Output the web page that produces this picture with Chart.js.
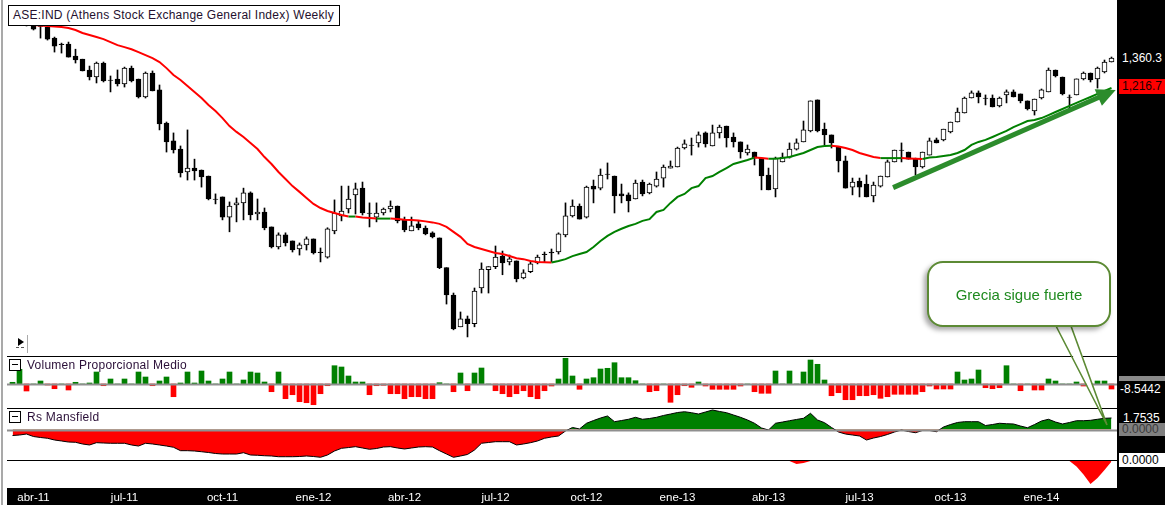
<!DOCTYPE html>
<html>
<head>
<meta charset="utf-8">
<title>ASE:IND Weekly</title>
<script src="https://cdn.jsdelivr.net/npm/chart.js@4.4.1/dist/chart.umd.min.js"></script>
<style>
html, body { margin: 0; padding: 0; background: #fff; }
body { width: 1165px; height: 505px; position: relative; overflow: hidden; font-family: "Liberation Sans", Arial, sans-serif; }
canvas { position: absolute; left: 7px; }
.abs { position: absolute; }
.hline { position: absolute; left: 7px; width: 1110px; height: 1px; background: #000; }
#leftEdge { left: 1px; top: 0; width: 2px; height: 505px; background: #a9a9a9; }
#xbar { left: 7px; top: 489px; width: 1110px; height: 16px; background: #000; }
#strip { left: 1117px; top: 0; width: 48px; height: 505px; background: #000; }
#title { left: 8px; top: 5px; height: 19px; padding: 0 5px 0 4px; border: 1px solid #000; background: #fff;
  font-size: 12px; line-height: 19px; color: #24102e; letter-spacing: 0.25px; white-space: nowrap; }
.plabel { position: absolute; left: 27px; font-size: 12px; line-height: 14px; color: #2a0f38; letter-spacing: 0.25px; white-space: nowrap; }
.pbox { position: absolute; left: 9px; width: 10px; height: 10px; border: 1px solid #000; background: #fff; }
.pbox:after { content: ""; position: absolute; left: 2px; top: 4px; width: 6px; height: 1px; background: #000; }
.rlab { position: absolute; left: 1119px; width: 46px; font-size: 12px; line-height: 14px; white-space: nowrap; }
#callout { left: 927px; top: 261px; width: 184px; height: 66px; box-sizing: border-box; border: 2px solid #5c8a34; border-radius: 16px;
  background: #fff; box-shadow: -3px 3px 5px rgba(0,0,0,0.35); display: flex; align-items: center; justify-content: center;
  font-size: 15px; color: #1f8a1f; }
</style>
</head>
<body>
<div class="abs" id="leftEdge"></div>
<div class="abs" id="xbar"></div>
<canvas id="cMain" width="1110" height="356" style="top:0px"></canvas>
<canvas id="cVol" width="1110" height="52" style="top:356px"></canvas>
<canvas id="cRs" width="1110" height="53" style="top:408px"></canvas>
<canvas id="cLow" width="1110" height="44" style="top:461px"></canvas>
<div class="hline" style="top:356px"></div>
<div class="hline" style="top:408px"></div>
<div class="hline" style="top:460px"></div>
<div class="hline" style="top:488px"></div>
<div class="abs" id="strip"></div>

<div class="abs" id="title">ASE:IND (Athens Stock Exchange General Index) Weekly</div>

<!-- little play marker bottom-left of price panel -->
<div class="abs" style="left:18px;top:338px;width:0;height:0;border-top:4px solid transparent;border-bottom:4px solid transparent;border-left:6px solid #000;"></div>
<div class="abs" style="left:16px;top:347px;width:8px;height:0;border-top:1px dashed #555;"></div>
<div class="abs" style="left:27px;top:335px;width:1px;height:18px;background:#aaa;"></div>

<div class="pbox" style="top:359px"></div>
<div class="plabel" style="top:358px">Volumen Proporcional Medio</div>
<div class="pbox" style="top:411px"></div>
<div class="plabel" style="top:410px">Rs Mansfield</div>

<div class="rlab" style="top:51px;left:1122px;color:#fff">1,360.3</div>
<div class="rlab" style="top:79px;height:15px;background:#ff0000;color:#1a0000;padding-left:3px;">1,216.7</div>
<div class="abs" style="left:1119px;top:376px;width:46px;height:5px;background:#8a8a8a"></div>
<div class="rlab" style="top:382px;left:1120px;color:#fff">-8.5442</div>
<div class="rlab" style="top:411px;left:1123px;color:#fff">1.7535</div>
<div class="rlab" style="top:423px;height:13px;line-height:13px;background:#808080;color:#3a3a3a;padding-left:3px;">0.0000</div>
<div class="rlab" style="top:453px;height:14px;background:#fff;color:#000;padding-left:3px;">0.0000</div>

<svg class="abs" style="left:1040px;top:318px" width="80" height="112">
  <polygon points="16.5,5 30.5,5 67,107" fill="#fff"/>
  <polyline points="16,8 67,107 31,8" fill="none" stroke="#5c8a34" stroke-width="1.6"/>
</svg>
<div class="abs" id="callout">Grecia sigue fuerte</div>

<script>
// weekly bars, first one = week of 14-mar-2011
var opens = [
  1555.4, 1567, 1549.6, 1538, 1532.2, 1526.4, 1464.7, 1432.4, 1432.4, 1369.8,
  1354.2, 1301, 1267.4, 1335, 1253.5, 1257.8, 1234.9, 1310, 1257.8, 1176.6,
  1286.6, 1208, 1068, 999.3, 969.5, 890.3, 903.4, 897, 877, 805.2,
  811.4, 752.9, 787.6, 793.6, 823.7, 761.5, 767.3, 725.7, 673.7, 704.7,
  688.9, 668.6, 678.7, 694.1, 661.1, 648.7, 715.3, 756, 775.7, 817.6,
  838.4, 764.4, 752.9, 764.4, 775.7, 784.6, 745, 715.3, 734, 722.9,
  710, 696.7, 623.7, 563.4, 500.6, 515.9, 506.4, 578.3, 619, 626,
  651.2, 637.2, 639.6, 600.6, 614.4, 634.9, 656.1, 661.1, 661.1, 704.7,
  756, 784.6, 752.9, 844.8, 838.4, 883.7, 877, 820.6, 817.6, 805.2,
  857.6, 823.7, 844.8, 870.4, 903.4, 907, 973.2, 984.4, 991.8, 1029.4,
  980.7, 1029.4, 1056, 1014, 995.6, 955.3, 958.8, 937.4, 880.4, 836.2,
  924.1, 941, 969.5, 995.6, 1037.1, 1164, 1044, 1021.7, 976.7, 927.6,
  841.6, 860.8, 851.2, 814.5, 844.8, 873.7, 924.1, 966, 958.8, 933.8,
  907, 948.1, 1003, 1003, 1033.3, 1072, 1108.5, 1172.2, 1194.6, 1172.2,
  1172.2, 1138.1, 1185.6, 1199, 1190.1, 1159.7, 1116.8, 1172.2, 1199, 1301,
  1267.4, 1176.6, 1185.6, 1258.3, 1286.6, 1258.3, 1291.4, 1340
];
var highs = [
  1591, 1579, 1573, 1543.8, 1538, 1532.2, 1470.3, 1437.8, 1443.2, 1405.4,
  1354.2, 1320, 1340, 1340, 1272.2, 1301, 1315, 1320, 1257.8, 1291.4,
  1296.2, 1230.3, 1072, 1029.4, 980.7, 1041, 933.8, 897, 877, 820.6,
  811.4, 796.5, 808.3, 838.4, 826.8, 805.2, 778.7, 725.7, 710, 710,
  688.9, 683.8, 699.4, 694.1, 671.1, 723.5, 802.5, 844.8, 844.8, 854.4,
  857.6, 793.6, 793.6, 778.7, 799.5, 784.6, 752.9, 752.9, 742.2, 728.4,
  712.7, 696.7, 623.7, 567.6, 529, 521.1, 578.3, 634.9, 626, 676.1,
  663.5, 653.7, 639.6, 619, 637.2, 653.7, 661.1, 668.6, 710, 793.6,
  802.5, 790.6, 844.8, 864, 900.3, 920.7, 877, 851.2, 823.7, 864,
  864, 854.4, 890.3, 913.8, 927.6, 976.7, 1003, 1010.1, 1033.3, 1033.3,
  1060, 1060, 1056, 1029.4, 995.6, 984.4, 958.8, 937.4, 903.4, 941,
  955.3, 991.8, 1006.9, 1076, 1159.7, 1164, 1068, 1021.7, 976.7, 944.5,
  870.4, 870.4, 880.4, 857.6, 877, 931, 966, 991.8, 958.8, 937.4,
  958.8, 1010.1, 1010.1, 1044, 1072, 1129.4, 1176.6, 1203.5, 1203.5, 1185.6,
  1185.6, 1176.6, 1208, 1208, 1190.1, 1159.7, 1167.7, 1212.2, 1310.6, 1301,
  1267.4, 1185.6, 1258.3, 1291.4, 1286.6, 1315.4, 1350, 1365.2
];
var lows = [
  1543.8, 1538, 1532.2, 1509.5, 1464.7, 1454, 1390.6, 1385.4, 1364.6, 1335,
  1296.2, 1253.5, 1239.6, 1244.2, 1199, 1225.6, 1221, 1244.2, 1172.2, 1172.2,
  1203.5, 1041, 958.8, 955.3, 873.7, 864, 864, 841.6, 802.5, 790.6,
  745, 712.7, 739.5, 745, 745, 745, 718, 671.1, 668.6, 676.1,
  661.1, 653.7, 666, 656.1, 637.2, 646.2, 707.4, 742.2, 764.4, 761.5,
  758.7, 725.7, 739.5, 758.7, 767.3, 736.7, 712.7, 715.3, 718, 704.7,
  696.7, 621.4, 544.8, 495, 500.6, 482.1, 500.6, 567.6, 567.6, 621.4,
  607.5, 630.1, 591.6, 598.3, 612.1, 632.5, 637.2, 637.2, 656.1, 699.4,
  752.9, 747.2, 750.1, 793.6, 833, 867.2, 764.4, 793.6, 767.3, 805.2,
  814.5, 820.6, 841.6, 841.6, 903.4, 907, 969.5, 948.1, 976.7, 976.7,
  980.7, 1010.1, 976.7, 976.7, 937.4, 948.1, 913.8, 833, 833, 811.4,
  924.1, 937.4, 966, 995.6, 1033.3, 1033.3, 984.4, 973.2, 890.3, 838.4,
  817.6, 811.4, 811.4, 796.5, 841.6, 873.7, 924.1, 924.1, 933.8, 880.4,
  903.4, 948.1, 991.8, 999.3, 1029.4, 1072, 1108.5, 1172.2, 1151, 1142.4,
  1133.8, 1133.8, 1151, 1176.6, 1151, 1121, 1100.2, 1167.7, 1199, 1267.4,
  1185.6, 1121, 1185.6, 1253.5, 1244.2, 1216.3, 1286.6, 1340
];
var closes = [
  1567, 1549.6, 1543.8, 1514.8, 1529.3, 1459.1, 1421.6, 1429.7, 1364.6, 1350,
  1296.2, 1267.4, 1335, 1248.9, 1251.2, 1234.9, 1310, 1248.9, 1176.6, 1286.6,
  1203.5, 1064, 995.6, 966, 887, 903.4, 893.7, 873.7, 805.2, 803.9,
  752.9, 784.6, 793.6, 823.7, 758.7, 767.3, 722.9, 673.7, 704.7, 683.8,
  666, 678.7, 694.1, 658.6, 659.8, 720.8, 764.4, 770.1, 805.2, 836.2,
  764.4, 763, 764.4, 775.7, 784.6, 742.2, 718, 728.4, 722.9, 707.4,
  699.4, 623.7, 563.4, 496.9, 515.9, 506.4, 571.9, 620.6, 626, 648.7,
  634.9, 644.4, 598.3, 612.1, 632.5, 648.7, 654.9, 658.6, 707.4, 756,
  784.6, 747.2, 841.6, 835.3, 880.4, 882.1, 814.5, 814.5, 799.5, 854.4,
  820.6, 851.2, 867, 907, 910.3, 973.2, 988.1, 982.5, 1021.7, 988.1,
  1029.4, 1052, 1010.1, 995.6, 958.8, 969.5, 937.4, 877, 833, 937.4,
  941, 969.5, 991.8, 1041, 1159.7, 1037.1, 1021.7, 991.8, 927.6, 838.4,
  857.6, 841.6, 811.4, 848, 877, 924.1, 966, 964.2, 933.8, 907,
  958.8, 999.3, 991.8, 1044, 1072, 1112.7, 1172.2, 1194.6, 1176.6, 1169.9,
  1133.8, 1172.2, 1199, 1176.6, 1159.7, 1125.2, 1167.7, 1208, 1301, 1272.2,
  1190.1, 1174.4, 1258.3, 1286.6, 1253.5, 1310.6, 1340, 1360.3
];
// moving average drawn over the candles (red while falling, green while rising)
var mediaMovil = [
  1538, 1538, 1538, 1538, 1535.1, 1532.2, 1529.3, 1526.4, 1520.6, 1509.5,
  1492.7, 1481.5, 1470.3, 1459.1, 1443.2, 1427, 1416.2, 1405.4, 1390.6, 1375,
  1359.4, 1340, 1310, 1277, 1253.5, 1225.6, 1199, 1172.2, 1142.4, 1116.8,
  1087.7, 1056, 1033.3, 1014, 991.8, 969.5, 941, 917.2, 890.3, 867.2,
  844.8, 826.8, 808.3, 790.6, 778.7, 770.1, 764.4, 758.7, 754.3, 754.3,
  751.5, 750, 748.6, 748.6, 748.6, 747.2, 745.7, 745, 743.6, 740.9,
  738.1, 734, 725.7, 712.7, 699.4, 681.2, 673.7, 668.6, 663.5, 658.6,
  656.1, 651.2, 646.2, 643.8, 639.6, 637.2, 636.5, 636, 639.6, 643.8,
  651.2, 656.1, 661.1, 673.7, 688.9, 702, 712.7, 720.8, 728.4, 734,
  742.2, 747.2, 767.3, 773, 793.6, 811.4, 820.6, 838.4, 844.8, 870.4,
  877, 890.3, 903.4, 917.2, 924.1, 931, 939.2, 937.4, 935.6, 935.6,
  937.4, 941, 948.1, 955.3, 966, 976.7, 980.7, 981.5, 978.8, 973.2,
  966, 955.3, 948.1, 941, 937.4, 937.4, 937.4, 937.4, 936.3, 935.2,
  934.5, 939.2, 941, 944.5, 948.1, 955.3, 966, 984.4, 995.6, 1003,
  1014, 1025.6, 1037.1, 1052, 1064, 1076, 1080, 1088, 1100.2, 1112.7,
  1125.2, 1138.1, 1151, 1164, 1176.6, 1190.1, 1203.5, 1216.7
];
var volProporcional = [
  2.9, 25.0, -11.9, 0, 5.1, -1.7, -8.0, 0, -10.2, 2.9,
  0, 1.7, 20.4, -2.9, 8.5, 0, 8.5, 0, 20.4, 11.9,
  -2.9, 5.1, 11.9, -21.6, 1.7, 20.4, 1.7, 22.1, 5.1, 0,
  8.5, 20.4, 0, 6.8, 20.4, 18.7, 3.4, -13.1, 20.4, -25.0,
  -18.2, -30.1, -31.8, -35.2, -16.5, -2.9, 31.1, 28.9, 13.6, 3.4,
  3.4, -18.2, -2.9, -2.2, -16.5, -16.5, -25.0, -21.6, -21.6, -25.0,
  -25.0, 2.2, 0, -13.1, 18.7, -11.4, 18.7, 27.2, 0, -11.4,
  -16.5, -21.6, -16.5, -11.4, -21.6, -25.0, -11.4, -3.4, 8.5, 43.7,
  13.6, -9.0, 8.5, 10.7, 25.5, 26.7, 36.2, 10.7, 10.7, 5.6,
  0, -13.1, -11.4, 0, -31.1, -18.2, -2.9, -5.6, 3.4, -3.4,
  -9.0, -9.0, -9.0, -9.0, -3.4, 0, -13.1, -15.8, -15.8, 22.1,
  0, 22.1, 0, 20.4, 40.8, 33.5, 6.8, -19.9, -14.8, -26.7,
  -26.7, -19.9, -19.9, -18.2, -24.3, -21.6, -17.5, -17.5, -17.5, -17.5,
  -13.1, -3.4, -8.5, -8.5, -8.5, 20.4, 6.8, 8.5, 23.8, -6.3,
  -8.0, -6.3, 31.1, 0, -11.4, 0, -10.2, -10.2, 8.5, 5.1,
  0, 0, 3.4, -3.4, 0, 5.1, 5.1, -8.5442
];
var rsMansfield = [
  -0.92, -0.84, -0.69, -1.07, -1.22, -1.34, -1.60, -1.75, -1.91, -1.95,
  -2.21, -2.36, -2.01, -2.06, -2.10, -2.10, -2.10, -2.36, -2.52, -2.10,
  -2.21, -2.36, -2.52, -2.71, -3.23, -3.23, -3.28, -3.39, -3.51, -3.66,
  -3.74, -3.74, -3.74, -3.54, -3.89, -3.93, -4.00, -4.04, -4.15, -4.15,
  -4.15, -4.12, -4.04, -4.12, -4.24, -3.89, -3.28, -2.87, -2.75, -2.62,
  -2.82, -3.02, -2.90, -2.67, -2.62, -2.82, -2.97, -2.82, -2.67, -2.62,
  -2.67, -3.23, -3.74, -4.24, -4.04, -3.81, -3.13, -2.10, -1.98, -1.86,
  -1.86, -1.86, -2.36, -2.21, -2.01, -1.75, -1.34, -1.14, -0.99, -0.23,
  0.31, 0.08, 0.95, 1.37, 1.75, 2.06, 1.19, 1.37, 1.56, 1.86,
  1.56, 1.68, 1.86, 2.14, 2.36, 2.59, 2.71, 2.56, 2.36, 2.67,
  2.97, 2.75, 2.56, 2.21, 1.86, 1.45, 0.95, 0.23, -0.08, 0.95,
  1.14, 1.34, 1.53, 1.71, 2.47, 1.45, 1.04, 0.31, -0.38, -0.69,
  -0.84, -0.99, -1.60, -1.30, -1.07, -0.76, -0.38, -0.08, -0.31, -0.49,
  -0.15, -0.15, -0.34, 0.38, 0.76, 1.07, 1.19, 1.19, 1.19, 0.61,
  0.76, 0.95, 0.88, 0.84, 0.53, 0.27, 0.76, 1.30, 1.56, 1.14,
  0.84, 1.07, 1.34, 1.34, 1.40, 1.56, 1.71, 1.7535
];
// bottom (unnamed) pane
var panelInferior = [
  0, 0, 0, 0, 0, 0, 0, 0, 0, 0,
  0, 0, 0, 0, 0, 0, 0, 0, 0, 0,
  0, 0, 0, 0, 0, 0, 0, 0, 0, 0,
  0, 0, 0, 0, 0, 0, 0, 0, 0, 0,
  0, 0, 0, 0, 0, 0, 0, 0, 0, 0,
  0, 0, 0, 0, 0, 0, 0, 0, 0, 0,
  0, 0, 0, 0, 0, 0, 0, 0, 0, 0,
  0, 0, 0, 0, 0, 0, 0, 0, 0, 0,
  0, 0, 0, 0, 0, 0, 0, 0, 0, 0,
  0, 0, 0, 0, 0, 0, 0, 0, 0, 0,
  0, 0, 0, 0, 0, 0, 0, 0, 0, 0,
  0, 0, -0.3, -0.2, 0, 0, 0, 0, 0, 0,
  0, 0, 0, 0, 0, 0, 0, 0, 0, 0,
  0, 0, 0, 0, 0, 0, 0, 0, 0, 0,
  0, 0, 0, 0, 0, 0, 0, 0, 0, 0,
  0, 0, -0.56, -1.35, -2.3, -1.7, -0.9, -0.05
];
var tickWeeks = [3, 16, 30, 43, 56, 69, 82, 95, 108, 121, 134, 147];
var tickLabels = ['abr-11', 'jul-11', 'oct-11', 'ene-12', 'abr-12', 'jul-12', 'oct-12', 'ene-13', 'abr-13', 'jul-13', 'oct-13', 'ene-14'];
// trend arrow annotation, in (week, price)
var flecha = { desde: [125.8, 840], hasta: [157.6, 1208] };

var ROJO = '#ff0000', VERDE = '#008000';
var X_MIN = -0.7857, X_MAX = 157.7857;
var semanas = opens.map(function (v, i) { return i; });

Chart.defaults.font.family = '"Liberation Sans", Arial, sans-serif';

function pts(arr) {
    return semanas.map(function (i) { return { x: i, y: arr[i] }; });
}

function baseOpts(yOpts, xOpts) {
    return {
        responsive: false,
        animation: false,
        events: [],
        layout: { padding: 0 },
        plugins: { legend: { display: false }, tooltip: { enabled: false } },
        scales: {
            x: Object.assign({ type: 'linear', min: X_MIN, max: X_MAX, offset: false, display: false }, xOpts || {}),
            y: Object.assign({ display: false }, yOpts)
        }
    };
}

var lineaCero = {
    id: 'lineaCero',
    afterDatasetsDraw: function (chart) {
        var ctx = chart.ctx, a = chart.chartArea;
        var py = Math.round(chart.scales.y.getPixelForValue(0)) + 0.5;
        ctx.save();
        ctx.strokeStyle = '#8f8f8f';
        ctx.lineWidth = 2;
        ctx.beginPath();
        ctx.moveTo(a.left, py);
        ctx.lineTo(a.right, py);
        ctx.stroke();
        ctx.restore();
    }
};

var dibujaFlecha = {
    id: 'flecha',
    afterDatasetsDraw: function (chart) {
        var ctx = chart.ctx, sx = chart.scales.x, sy = chart.scales.y;
        var x0 = sx.getPixelForValue(flecha.desde[0]), y0 = sy.getPixelForValue(flecha.desde[1]);
        var x1 = sx.getPixelForValue(flecha.hasta[0]), y1 = sy.getPixelForValue(flecha.hasta[1]);
        var ang = Math.atan2(y1 - y0, x1 - x0);
        var L = 19, W = 9;
        var bx = x1 - L * Math.cos(ang), by = y1 - L * Math.sin(ang);
        ctx.save();
        ctx.strokeStyle = '#2c8c2c';
        ctx.fillStyle = '#2c8c2c';
        ctx.lineWidth = 5;
        ctx.beginPath();
        ctx.moveTo(x0, y0);
        ctx.lineTo(bx + 2 * Math.cos(ang), by + 2 * Math.sin(ang));
        ctx.stroke();
        ctx.beginPath();
        ctx.moveTo(x1, y1);
        ctx.lineTo(bx + W * Math.sin(ang), by - W * Math.cos(ang));
        ctx.lineTo(bx - W * Math.sin(ang), by + W * Math.cos(ang));
        ctx.closePath();
        ctx.fill();
        ctx.restore();
    }
};

// price pane: wicks + bodies as floating bars, moving average on top
new Chart(document.getElementById('cMain'), {
    type: 'bar',
    data: {
        datasets: [{
            type: 'line',
            data: pts(mediaMovil),
            borderColor: VERDE,
            borderWidth: 2,
            pointRadius: 0,
            segment: {
                borderColor: function (c) { return c.p1.parsed.y < c.p0.parsed.y ? ROJO : VERDE; }
            },
            order: 0
        }, {
            data: semanas.map(function (i) { return { x: i, y: [opens[i], closes[i]] }; }),
            backgroundColor: semanas.map(function (i) { return closes[i] >= opens[i] ? '#ffffff' : '#000000'; }),
            borderColor: '#000',
            borderWidth: 1,
            borderSkipped: false,
            barThickness: 5,
            grouped: false,
            order: 1
        }, {
            data: semanas.map(function (i) { return { x: i, y: [lows[i], highs[i]] }; }),
            backgroundColor: '#000',
            borderWidth: 0,
            barThickness: 1,
            grouped: false,
            order: 2
        }]
    },
    options: baseOpts({ type: 'logarithmic', min: 449.1, max: 1687.6 }),
    plugins: [dibujaFlecha]
});

new Chart(document.getElementById('cVol'), {
    type: 'bar',
    data: {
        datasets: [{
            data: pts(volProporcional),
            backgroundColor: volProporcional.map(function (v) { return v >= 0 ? VERDE : ROJO; }),
            borderWidth: 0,
            barThickness: 5
        }]
    },
    options: baseOpts({ type: 'linear', min: -40.8, max: 47.6 }),
    plugins: [lineaCero]
});

new Chart(document.getElementById('cRs'), {
    type: 'line',
    data: {
        datasets: [{
            data: pts(rsMansfield),
            borderColor: '#000',
            borderWidth: 1,
            pointRadius: 0,
            fill: { target: 'origin', above: VERDE, below: ROJO }
        }]
    },
    options: baseOpts({ type: 'linear', min: -4.804, max: 3.279 }),
    plugins: [lineaCero]
});

new Chart(document.getElementById('cLow'), {
    type: 'line',
    data: {
        datasets: [{
            data: pts(panelInferior),
            borderWidth: 0,
            borderColor: 'rgba(0,0,0,0)',
            pointRadius: 0,
            fill: { target: 'origin', above: 'rgba(0,0,0,0)', below: ROJO }
        }]
    },
    options: baseOpts({ type: 'linear', min: -2.7, max: 0 }, {
        display: true,
        position: 'bottom',
        grid: { display: false, drawTicks: false },
        border: { display: false },
        afterBuildTicks: function (s) { s.ticks = tickWeeks.map(function (v) { return { value: v }; }); },
        afterFit: function (s) { s.height = 17; },
        ticks: {
            color: '#ffffff',
            font: { size: 11.5 },
            padding: 3,
            maxRotation: 0,
            autoSkip: false,
            callback: function (v, idx) { return tickLabels[idx]; }
        }
    })
});
</script>
</body>
</html>
